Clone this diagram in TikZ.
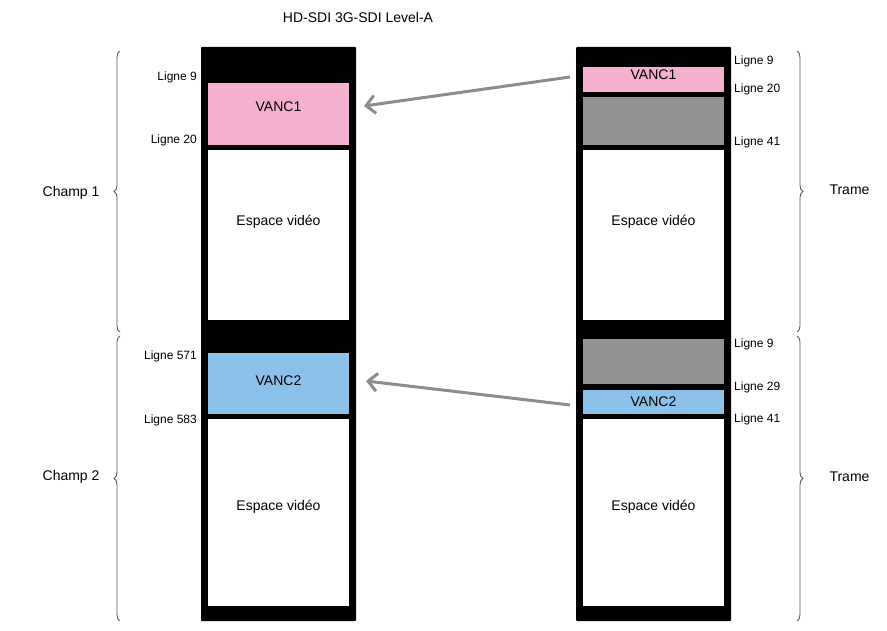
\documentclass[tikz,border=0pt]{standalone}
\usepackage{fontspec}
\setmainfont{Liberation Sans}
\usetikzlibrary{decorations.pathreplacing,arrows.meta}
\definecolor{pinkv}{RGB}{244,176,206}
\definecolor{bluev}{RGB}{140,194,234}
\definecolor{grayv}{RGB}{146,146,148}
\begin{document}
\begin{tikzpicture}[x=1pt,y=-1pt,
  region/.style={draw=none,inner sep=0pt,font=\fontsize{14}{16}\selectfont},
  lab/.style={font=\fontsize{12}{14}\selectfont,inner sep=1pt},
  brc/.style={draw=black!65,line width=0.9pt,decorate,decoration={brace,amplitude=6pt}},
  arr/.style={draw=black!45,line width=3pt,-{Straight Barb[length=9pt,width=18pt,line width=3pt]}}]
\useasboundingbox (0,0) rectangle (887,631);
\node[font=\fontsize{14}{16}\selectfont] (title) at (358,17) {HD-SDI 3G-SDI Level-A};
% left bar
\fill[black,rounded corners=1pt] (201,47) rectangle (356,621);
\fill[pinkv] (208,83) rectangle (349,145);
\fill[white] (208,150) rectangle (349,320);
\fill[bluev] (208,353) rectangle (349,414);
\fill[white] (208,419) rectangle (349,606);
\node[region] (lv1) at (278.5,107) {VANC1};
\node[region] (le1) at (278.5,222) {Espace vidéo};
\node[region] (lv2) at (278.5,381) {VANC2};
\node[region] (le2) at (278.5,507) {Espace vidéo};
% right bar
\fill[black,rounded corners=1pt] (576,47) rectangle (731,621);
\fill[pinkv] (583,67) rectangle (724,92);
\fill[grayv] (583,97) rectangle (724,145);
\fill[white] (583,150) rectangle (724,320);
\fill[grayv] (583,339) rectangle (724,384);
\fill[bluev] (583,390) rectangle (724,414);
\fill[white] (583,419) rectangle (724,606);
\node[region] (rv1) at (653.5,75) {VANC1};
\node[region] (re1) at (653.5,222) {Espace vidéo};
\node[region] (rv2) at (653.5,402) {VANC2};
\node[region] (re2) at (653.5,507) {Espace vidéo};
% left labels
\node[lab,anchor=east] (l9) at (198,77) {Ligne 9};
\node[lab,anchor=east] (l20) at (198,140) {Ligne 20};
\node[lab,anchor=east] (l571) at (198,356) {Ligne 571};
\node[lab,anchor=east] (l583) at (198,420) {Ligne 583};
% right labels
\node[lab,anchor=west] (r9) at (733,61) {Ligne 9};
\node[lab,anchor=west] (r20) at (733,89) {Ligne 20};
\node[lab,anchor=west] (r41) at (733,142) {Ligne 41};
\node[lab,anchor=west] (r9b) at (733,344) {Ligne 9};
\node[lab,anchor=west] (r29) at (733,387) {Ligne 29};
\node[lab,anchor=west] (r41b) at (733,419) {Ligne 41};
% braces
\coordinate (lb1a) at (120,332); \coordinate (lb1b) at (120,51);
\coordinate (lb2a) at (120,621); \coordinate (lb2b) at (120,336);
\draw[brc] (lb1a) -- (lb1b);
\draw[brc] (lb2a) -- (lb2b);
\coordinate (rb1a) at (797,51); \coordinate (rb1b) at (797,332);
\coordinate (rb2a) at (797,336); \coordinate (rb2b) at (797,621);
\draw[brc] (rb1a) -- (rb1b);
\draw[brc] (rb2a) -- (rb2b);
\node[font=\fontsize{14}{16}\selectfont,anchor=east] (c1) at (103,193) {Champ 1};
\node[font=\fontsize{14}{16}\selectfont,anchor=east] (c2) at (103,477) {Champ 2};
\node[font=\fontsize{14}{16}\selectfont,anchor=west] (t1) at (826,190) {Trame};
\node[font=\fontsize{14}{16}\selectfont,anchor=west] (t2) at (826,477) {Trame};
% arrows
\coordinate (a1s) at (570,77); \coordinate (a1e) at (364,106);
\coordinate (a2s) at (570,405); \coordinate (a2e) at (366,381);
\draw[arr] (a1s) -- (a1e);
\draw[arr] (a2s) -- (a2e);
\end{tikzpicture}
\end{document}
